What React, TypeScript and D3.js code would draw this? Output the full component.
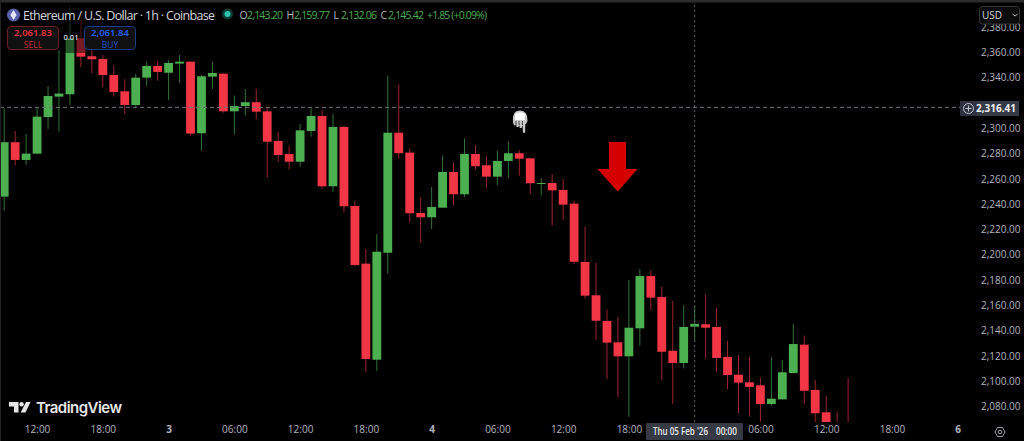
import React, { useEffect, useRef } from 'react';
import * as d3 from 'd3';

const WIDTH = 1024;
const HEIGHT = 441;
const PANE_BOTTOM = 422;

// hourly candles, starting 2 Feb 2026 09:00
const opens = [2245.9, 2288.9, 2274.9, 2279.9, 2308.8, 2324.9, 2326.8, 2371, 2356.8, 2354.6, 2342, 2329.1, 2318.3, 2339.9, 2349.1, 2343.8, 2351, 2352.5, 2296, 2340.7, 2343, 2313.3, 2317.5, 2320.5, 2313.3, 2289.9, 2279.6, 2273.5, 2297.8, 2309.6, 2254.1, 2301, 2238.5, 2193, 2117.1, 2201.6, 2296.4, 2280.7, 2233, 2229.6, 2237.2, 2265.4, 2247.8, 2279.6, 2270.7, 2261.7, 2274.1, 2280.2, 2276.2, 2256.2, 2256.7, 2251.2, 2240.4, 2194.3, 2168, 2147.7, 2130.9, 2119.8, 2141.9, 2183.2, 2166.6, 2124.2, 2114.5, 2143.2, 2145.1, 2143, 2119.3, 2105.3, 2099.3, 2096.9, 2082.1, 2085.8, 2106.6, 2129, 2093.2, 2075.6, 2066, 2065];
const highs = [2315.7, 2297.8, 2295.4, 2316, 2333.3, 2361.8, 2395.5, 2386, 2361.8, 2357.8, 2349.4, 2338.6, 2342.8, 2352.5, 2353.3, 2353.8, 2357.8, 2352.5, 2342, 2352.5, 2343.4, 2325.7, 2331, 2331, 2316.2, 2297, 2286, 2303.3, 2315.7, 2314.4, 2311, 2301.7, 2242.5, 2204.6, 2216.4, 2341.5, 2334.7, 2283.6, 2245.4, 2253.5, 2278.3, 2273.1, 2292, 2286.7, 2277.8, 2282, 2289.6, 2282.5, 2276.2, 2260.7, 2263.6, 2259.9, 2242.5, 2222.2, 2193.7, 2156.9, 2150.6, 2180.1, 2188.8, 2187.7, 2174.8, 2163.5, 2160.3, 2159.77, 2168.8, 2158.2, 2131.9, 2120.8, 2119.3, 2102.9, 2119.3, 2116.9, 2145.3, 2136.1, 2101.1, 2088.7, 2075.8, 2102.7];
const lows = [2234.8, 2270.4, 2271.2, 2279.4, 2299.4, 2297.2, 2318.3, 2348.1, 2343.4, 2332.3, 2324.9, 2311, 2315.7, 2333.3, 2337.5, 2322.3, 2335.5, 2294.1, 2282.2, 2331, 2312.2, 2295.4, 2309.9, 2307, 2260.9, 2273.3, 2267.5, 2269.6, 2293.3, 2252.2, 2249.8, 2233.2, 2191.1, 2107.6, 2108.4, 2185.1, 2275.9, 2225.7, 2209.5, 2220.4, 2237.2, 2238.8, 2245.7, 2267.2, 2253, 2255.1, 2260.4, 2262.5, 2247.8, 2246.7, 2223, 2227.5, 2192.7, 2165.3, 2132.7, 2101.9, 2087.7, 2072.1, 2128.2, 2156.4, 2101.1, 2082.4, 2110.3, 2132.06, 2118.2, 2107.6, 2093.7, 2074.8, 2072.1, 2066.3, 2080.8, 2085.8, 2106.2, 2082.1, 2066, 2060, 2058, 2060];
const closes = [2288.9, 2274.9, 2279.9, 2309.1, 2325.4, 2327.3, 2371, 2356.5, 2354.4, 2342, 2328.6, 2318.3, 2339.9, 2349.1, 2344.4, 2351.5, 2352.5, 2295.7, 2341, 2343.6, 2313.3, 2317.5, 2320.5, 2313, 2289.3, 2278.8, 2273.5, 2298.3, 2309.6, 2254.1, 2301, 2238.3, 2191.9, 2117.7, 2202.4, 2296.4, 2280.2, 2232.8, 2229.6, 2237.7, 2265.4, 2247.8, 2279.6, 2269.9, 2261.7, 2274.1, 2280.2, 2275.9, 2256.5, 2256.7, 2250.9, 2239.6, 2194.5, 2167.7, 2147.9, 2130.6, 2119.8, 2142.4, 2183.2, 2166.1, 2123.4, 2114.5, 2143, 2145.42, 2142.4, 2118.5, 2105, 2099, 2095.6, 2082.1, 2086.3, 2107.2, 2129.5, 2092.6, 2074.8, 2064.5, 2063, 2061.83];

// 2,320 sits behind the crosshair price tag
const priceTicks = [2380, 2360, 2340, 2300, 2280, 2260, 2240, 2220, 2200, 2180, 2160, 2140, 2120, 2100, 2080];
const timeTicks = [
  '2026-02-02T12:00Z', '2026-02-02T18:00Z', '2026-02-03T00:00Z', '2026-02-03T06:00Z', '2026-02-03T12:00Z',
  '2026-02-03T18:00Z', '2026-02-04T00:00Z', '2026-02-04T06:00Z', '2026-02-04T12:00Z', '2026-02-04T18:00Z',
  '2026-02-05T06:00Z', '2026-02-05T12:00Z', '2026-02-05T18:00Z', '2026-02-06T00:00Z',
].map(d => new Date(d));
const ohlcLabels = ['O', 'H', 'L', 'C'];
const ohlcValues = ['2,143.20', '2,159.77', '2,132.06', '2,145.42'];

const startTime = new Date('2026-02-02T09:00Z');
const endTime = new Date('2026-02-05T14:00Z');
const crosshairTime = new Date('2026-02-05T00:00Z');
const crosshairPrice = 2316.41;

const UP = '#4caf50';
const DOWN = '#f23645';
const FONT = '"Open Sans", "Noto Sans", sans-serif';

export default function App() {
  const ref = useRef<SVGSVGElement>(null);

  useEffect(() => {
    const svg = d3.select(ref.current);
    svg.selectAll('*').remove();

    const x = d3.scaleUtc().domain([startTime, endTime]).range([4.2, 848.1]);
    const y = d3.scaleLinear().domain([2080, 2360]).range([406.7, 52.2]);

    const candles = opens.map((o, i) => ({
      t: d3.utcHour.offset(startTime, i), o, h: highs[i], l: lows[i], c: closes[i],
    }));

    svg.append('rect').attr('width', WIDTH).attr('height', HEIGHT).attr('fill', '#000');

    svg.append('clipPath').attr('id', 'pane')
      .append('rect').attr('width', 970).attr('height', PANE_BOTTOM);

    const pane = svg.append('g').attr('clip-path', 'url(#pane)');

    // wicks
    pane.selectAll('line.wick').data(candles).enter().append('line')
      .attr('class', 'wick')
      .attr('x1', d => x(d.t)).attr('x2', d => x(d.t))
      .attr('y1', d => y(d.h)).attr('y2', d => y(d.l))
      .attr('stroke', d => (d.c >= d.o ? UP : DOWN))
      .attr('stroke-width', 1)
      .attr('stroke-opacity', 0.65);

    // bodies
    pane.selectAll('rect.body').data(candles).enter().append('rect')
      .attr('class', 'body')
      .attr('x', d => x(d.t) - 4.4)
      .attr('width', 8.8)
      .attr('y', d => y(Math.max(d.o, d.c)))
      .attr('height', d => Math.max(1, Math.abs(y(d.o) - y(d.c))))
      .attr('fill', d => (d.c >= d.o ? UP : DOWN));

    // crosshair
    pane.append('line')
      .attr('x1', 0).attr('x2', 970).attr('y1', y(crosshairPrice)).attr('y2', y(crosshairPrice))
      .attr('stroke', '#6f727a').attr('stroke-dasharray', '4 3');
    svg.append('line')
      .attr('x1', x(crosshairTime)).attr('x2', x(crosshairTime)).attr('y1', 0).attr('y2', PANE_BOTTOM)
      .attr('stroke', '#5c5f67').attr('stroke-dasharray', '2 3');

    // frame
    svg.append('rect').attr('width', WIDTH).attr('height', 2.5).attr('fill', '#2c2c2c');
    svg.append('rect').attr('width', 1).attr('height', HEIGHT).attr('fill', '#222');

    // axes
    const yAxis = svg.append('g').attr('transform', 'translate(980,0)')
      .call(d3.axisRight(y).tickValues(priceTicks).tickSize(0).tickPadding(1).tickFormat(d3.format(',.2f') as any));
    const xAxis = svg.append('g').attr('transform', `translate(0,${PANE_BOTTOM})`)
      .call(d3.axisBottom(x).tickValues(timeTicks).tickSize(0).tickPadding(4).tickFormat((d: any) =>
        d.getUTCHours() === 0 ? d3.utcFormat('%-d')(d) : d3.utcFormat('%H:%M')(d)));
    for (const axis of [yAxis, xAxis]) {
      axis.select('.domain').remove();
      axis.attr('font-family', FONT).attr('font-size', 10);
      axis.selectAll('text').attr('fill', '#b2b5be');
    }
    xAxis.selectAll('text').filter((d: any) => d.getUTCHours() === 0).attr('font-weight', 700);

    // overlay under the spread label dims the candles
    svg.append('rect').attr('x', 60).attr('y', 3).attr('width', 25).attr('height', 50)
      .attr('fill', '#000').attr('opacity', 0.5);

    const text = (tx: number, ty: number, s: string, fill: string, size: number, anchor = 'start', weight = 400) =>
      svg.append('text').attr('x', tx).attr('y', ty).attr('fill', fill)
        .attr('font-family', FONT).attr('font-size', size).attr('text-anchor', anchor)
        .attr('font-weight', weight).text(s);

    // title row
    svg.append('circle').attr('cx', 13.5).attr('cy', 15).attr('r', 6.5).attr('fill', '#5560a8');
    svg.append('path').attr('d', 'M13.5,10 L16.6,15 L13.5,20 L10.4,15 Z').attr('fill', '#e4e7f7');
    text(23, 19.5, 'Ethereum / U.S. Dollar · 1h · Coinbase', '#d1d4dc', 12.5).attr('textLength', 192);
    svg.append('circle').attr('cx', 227.5).attr('cy', 14).attr('r', 5.5).attr('fill', '#0c3a34');
    svg.append('circle').attr('cx', 227.5).attr('cy', 14).attr('r', 3).attr('fill', '#2dc5ae');

    ohlcLabels.forEach((k, i) => {
      const lx = 239.5 + i * 47;
      text(lx, 18.5, k, '#b2b5be', 10.5);
      text(lx + 7.5, 18.5, ohlcValues[i], UP, 10.5).attr('textLength', 36);
    });
    text(427, 18.5, '+1.85 (+0.09%)', UP, 10.5).attr('textLength', 60);

    // sell / buy
    svg.append('rect').attr('x', 7.5).attr('y', 26.5).attr('width', 51).attr('height', 23).attr('rx', 3.5)
      .attr('fill', '#111').attr('stroke', '#6d1f28');
    text(33, 36, '2,061.83', '#f23645', 9.5, 'middle', 600);
    text(33, 47.5, 'SELL', '#c22c38', 8.5, 'middle');
    svg.append('rect').attr('x', 84.5).attr('y', 26.5).attr('width', 51).attr('height', 23).attr('rx', 3.5)
      .attr('fill', '#111').attr('stroke', '#1c3a80');
    text(110, 36, '2,061.84', '#2962ff', 9.5, 'middle', 600);
    text(110, 47.5, 'BUY', '#2350c8', 8.5, 'middle');
    text(71, 40, '0.01', '#d1d4dc', 7.5, 'middle', 600);

    // red arrow
    svg.append('path')
      .attr('d', 'M609,142 H626 V169 H637.5 L617.7,191.5 L597.5,169 H609 Z')
      .attr('fill', '#d50000');

    // pointing hand
    const hand = svg.append('g');
    hand.append('path')
      .attr('d', 'M513,122 Q512,110.5 520,110.5 Q528,110.5 527.5,121 L526,124 L525.2,124 L525.2,132.8 L523,132.8 L522.6,125 L521.6,128 L519.8,128 L519.2,125 L518.4,127 L516.6,127 L516,124.5 L515.2,125.5 L513.8,125 Z')
      .attr('fill', '#c9c9c9');
    hand.append('path').attr('d', 'M515,114 Q520,110.5 525,114 L525,120 L515,120 Z').attr('fill', '#fff');
    hand.append('path').attr('d', 'M516,121 V125 M519,121 V125 M522.4,121 V125')
      .attr('stroke', '#222').attr('stroke-width', 0.8).attr('fill', 'none');

    // TradingView watermark
    svg.append('path')
      .attr('d', 'M9,402 H18.5 V412.5 H14 V406.5 H9 Z M26,402 H30.5 L25.5,412.5 H20.7 Z')
      .attr('fill', '#e6e6e6');
    svg.append('circle').attr('cx', 21.6).attr('cy', 404.2).attr('r', 2.2).attr('fill', '#e6e6e6');
    text(36, 412.5, 'TradingView', '#e6e6e6', 15, 'start', 600).attr('font-family', 'Inter, sans-serif').attr('textLength', 86);

    // crosshair labels
    svg.append('rect').attr('x', 646).attr('y', 423).attr('width', 97).attr('height', 17).attr('rx', 1).attr('fill', '#363a45');
    text(653, 435, "Thu 05 Feb '26", '#e8e9ee', 10.5, 'start', 600).attr('textLength', 55).attr('lengthAdjust', 'spacingAndGlyphs');
    text(716, 435, '00:00', '#e8e9ee', 10.5, 'start', 600).attr('textLength', 21).attr('lengthAdjust', 'spacingAndGlyphs');

    svg.append('rect').attr('x', 960).attr('y', 101).attr('width', 17).attr('height', 15).attr('fill', '#2e3240');
    svg.append('circle').attr('cx', 968.5).attr('cy', 108.5).attr('r', 5).attr('fill', 'none').attr('stroke', '#c4c6cd');
    svg.append('path').attr('d', 'M965.5,108.5 H971.5 M968.5,105.5 V111.5').attr('stroke', '#c4c6cd');
    svg.append('rect').attr('x', 977).attr('y', 101).attr('width', 42).attr('height', 15).attr('fill', '#363a45');
    text(1016, 112, '2,316.41', '#eeeff3', 10, 'end', 700);

    // currency button
    svg.append('rect').attr('x', 979.5).attr('y', 6.5).attr('width', 40).attr('height', 17.5).attr('rx', 3)
      .attr('fill', '#0c0c0c').attr('stroke', '#333');
    text(982, 19, 'USD', '#d1d4dc', 10);
    svg.append('path').attr('d', 'M1012.5,14 L1015,16 L1017.5,14').attr('fill', 'none').attr('stroke', '#b2b5be');

    // settings
    svg.append('path').attr('d', 'M995,432 L997.5,427.5 H1002.5 L1005,432 L1002.5,436.5 H997.5 Z')
      .attr('fill', 'none').attr('stroke', '#9a9da6');
    svg.append('circle').attr('cx', 1000).attr('cy', 432).attr('r', 1.8).attr('fill', 'none').attr('stroke', '#9a9da6');
  }, []);

  return (
    <>
      <style>{'html,body{margin:0;background:#000;overflow:hidden}'}</style>
      <svg ref={ref} width={WIDTH} height={HEIGHT} style={{ display: 'block' }}></svg>
    </>
  );
}
